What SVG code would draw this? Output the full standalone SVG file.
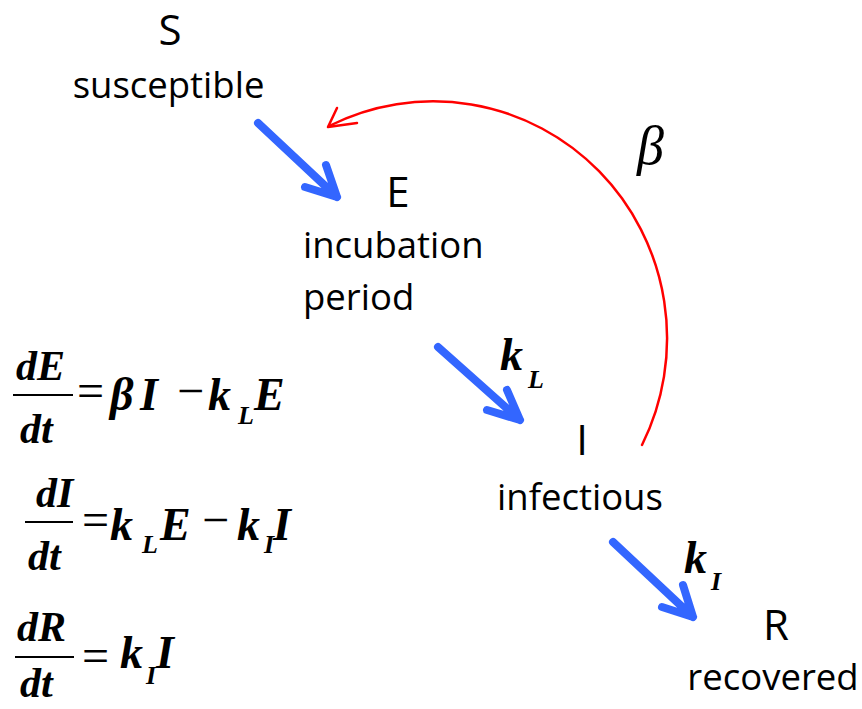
<svg xmlns="http://www.w3.org/2000/svg" width="862" height="709" viewBox="0 0 862 709">
<style>
.lbl{font-family:"Open Sans","Liberation Sans",sans-serif;font-size:36.5px;fill:#000}
.lbl.big{font-size:42px}
.m{font-family:"Liberation Serif","Times New Roman",serif;font-style:italic;font-weight:bold;fill:#000}
.mr{font-family:"Liberation Serif","Times New Roman",serif;font-style:italic;fill:#000}
.op{font-family:"Liberation Serif","Times New Roman",serif;fill:#000;font-size:48px}
.frac{stroke:#000;stroke-width:2.2}
.blue{fill:none;stroke:#3366ff;stroke-width:8;stroke-linecap:round;stroke-linejoin:round}
.red{fill:none;stroke:#ff0000;stroke-width:2.5;stroke-linecap:round;stroke-linejoin:round}
</style>
<rect width="862" height="709" fill="#fff"/>
<g id="S"><text class="lbl big" x="170" y="45" text-anchor="middle">S</text><text class="lbl" x="168.5" y="98" text-anchor="middle">susceptible</text></g>
<g id="E"><text class="lbl big" x="398" y="207" text-anchor="middle">E</text><text class="lbl" x="303" y="258">incubation</text><text class="lbl" x="303" y="310">period</text></g>
<g id="I"><text class="lbl big" x="582" y="455" text-anchor="middle">I</text><text class="lbl" x="580" y="510" text-anchor="middle">infectious</text></g>
<g id="R"><text class="lbl big" x="776" y="640" text-anchor="middle">R</text><text class="lbl" x="773" y="690" text-anchor="middle">recovered</text></g>
<g id="connectors">
<path class="blue" d="M258,123 L337,197 M305,187 L337,197 L326,165"/>
<path class="blue" d="M438,347 L520,420 M487,410 L520,420 L507,390"/>
<path class="blue" d="M613,542 L693,617 M662,607 L693,617 L683,585"/>
<path class="red" d="M642,445 A 234 237 0 0 0 329,126"/>
<path class="red" d="M337,108 L328,127 L357,123"/>
<text class="m" font-size="46" x="500" y="370">k</text><text class="m" font-size="26" x="528" y="388">L</text>
<text class="m" font-size="46" x="684" y="573">k</text><text class="m" font-size="26" x="711" y="590">I</text>
<text class="mr" font-size="54" x="637" y="164">β</text>
</g>
<g id="eq1">
<text class="m" font-size="42" x="16" y="380">dE</text>
<line class="frac" x1="13" y1="395" x2="73" y2="395"/>
<text class="m" font-size="42" x="20" y="443">dt</text>
<text class="op" x="77" y="407">=</text>
<text class="m" font-size="46" x="110" y="410">β</text><text class="m" font-size="46" x="140" y="410">I</text>
<text class="op" x="177" y="407">−</text>
<text class="m" font-size="46" x="208" y="410">k</text><text class="m" font-size="26" x="238" y="424">L</text>
<text class="m" font-size="46" x="254" y="410">E</text>
</g>
<g id="eq2">
<text class="m" font-size="42" x="36" y="507">dI</text>
<line class="frac" x1="25" y1="522" x2="73" y2="522"/>
<text class="m" font-size="42" x="28" y="570">dt</text>
<text class="op" x="82" y="536">=</text>
<text class="m" font-size="46" x="110" y="540">k</text><text class="m" font-size="26" x="142" y="553">L</text>
<text class="m" font-size="46" x="160" y="540">E</text>
<text class="op" x="202" y="536">−</text>
<text class="m" font-size="46" x="237" y="540">k</text><text class="m" font-size="26" x="264" y="553">I</text>
<text class="m" font-size="46" x="273" y="540">I</text>
</g>
<g id="eq3">
<text class="m" font-size="42" x="17" y="641">dR</text>
<line class="frac" x1="15" y1="657" x2="74" y2="657"/>
<text class="m" font-size="42" x="20" y="697">dt</text>
<text class="op" x="82" y="672">=</text>
<text class="m" font-size="46" x="120" y="668">k</text><text class="m" font-size="26" x="146" y="684">I</text>
<text class="m" font-size="46" x="156" y="668">I</text>
</g>
</svg>
